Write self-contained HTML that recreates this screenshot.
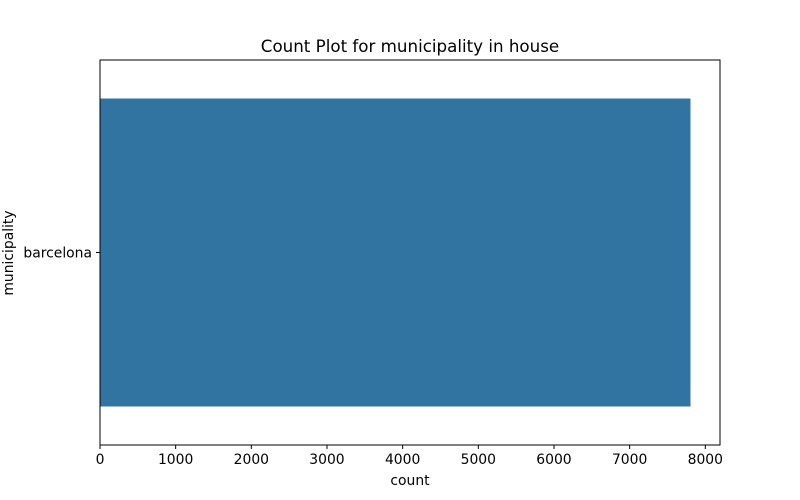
<!DOCTYPE html>
<html>
<head>
<meta charset="utf-8">
<style>
  html, body { margin: 0; padding: 0; background: #fff; }
  svg { display: block; font-family: "DejaVu Sans", "Liberation Sans", sans-serif; }
</style>
</head>
<body>
<svg id="chart" width="800" height="500" viewBox="0 0 800 500">
  <rect x="0" y="0" width="800" height="500" fill="#ffffff"/>
  <text x="410" y="52" text-anchor="middle" font-size="16.7" fill="#000">Count Plot for municipality in house</text>
  <g id="plot"></g>
  <text x="410" y="485" text-anchor="middle" font-size="13.9" fill="#000">count</text>
  <text x="0" y="0" transform="translate(13,253) rotate(-90)" text-anchor="middle" font-size="13.9" fill="#000">municipality</text>
</svg>
<script>
const categories = ["barcelona"];
const counts = [7804];
const xTicks = [0, 1000, 2000, 3000, 4000, 5000, 6000, 7000, 8000];

const L = 100, R = 720, T = 60, B = 445;
const xMax = Math.max(...counts) * 1.05;
const xScale = v => L + (v / xMax) * (R - L);
const band = (B - T) / categories.length;
const yCenter = i => T + band * (i + 0.5);
const NS = "http://www.w3.org/2000/svg";
const g = document.getElementById("plot");
function mk(tag, attrs) {
  const e = document.createElementNS(NS, tag);
  for (const k in attrs) e.setAttribute(k, attrs[k]);
  return e;
}

categories.forEach((c, i) => {
  const bh = band * 0.8;
  const r = mk("rect", { x: xScale(0), y: yCenter(i) - bh / 2, width: xScale(counts[i]) - xScale(0), height: bh, fill: "#3274a1" });
  
  
  g.appendChild(r);
  const t = mk("line", { x1: L, x2: L - 4, y1: yCenter(i), y2: yCenter(i), stroke: "#000", "stroke-width": 1 });
  
  
  g.appendChild(t);
  const lbl = mk("text", { x: L - 8, y: yCenter(i) + 5, "text-anchor": "end", "font-size": 13.9, fill: "#000" });
  lbl.textContent = c;
  
  
  g.appendChild(lbl);
});

xTicks.forEach(v => {
  const x = xScale(v);
  const t = mk("line", { x1: x, x2: x, y1: B, y2: B + 4, stroke: "#000", "stroke-width": 1 });
  
  
  g.appendChild(t);
  const lbl = mk("text", { x: x, y: B + 19, "text-anchor": "middle", "font-size": 13.9, fill: "#000" });
  lbl.textContent = v;
  
  
  g.appendChild(lbl);
});

const frame = mk("rect", { x: L, y: T, width: R - L, height: B - T, fill: "none", stroke: "#000", "stroke-width": 1 });


g.appendChild(frame);
</script>
</body>
</html>
